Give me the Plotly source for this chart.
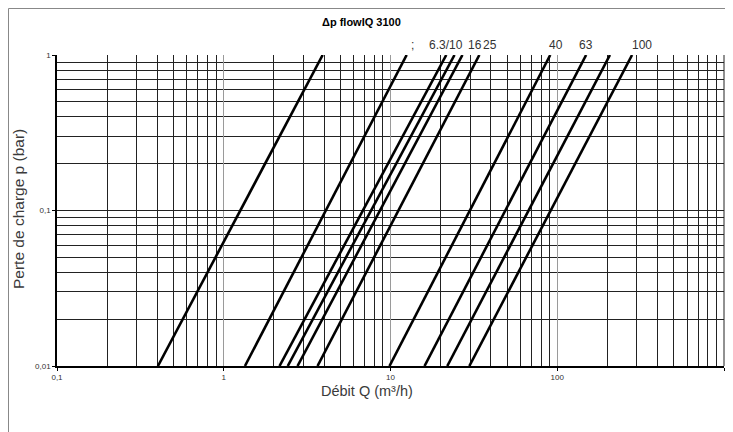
import math
import plotly.graph_objects as go

# Flow (m3/h) where each curve meets dp = 0.01 bar and dp = 1 bar
q_at_low = [0.403, 1.34, 2.16, 2.42, 2.77, 3.65, 9.86, 16.0, 21.9, 29.7]
q_at_high = [3.92, 12.5, 21.6, 24.2, 27.0, 34.1, 90.8, 149.0, 207.0, 281.0]
dp_low = 0.01
dp_high = 1.0

size_labels = [";", "6.3/10", "16", "25", "40", "63", "100"]
size_label_x = [13.5, 21.6, 32.1, 39.7, 98.6, 149.0, 321.0]

x_tickvals = [0.1, 1, 10, 100, 1000]
x_ticktext = ["0,1", "1", "10", "100", "1000"]
y_tickvals = [0.01, 0.1, 1]
y_ticktext = ["0,01", "0,1", "1"]

W, H = 725, 424
ML, MR, MT, MB = 49, 9, 47, 66
PW, PH = W - ML - MR, H - MT - MB
OFF = 8  # page body margin


def px_x(x):
    return (x - OFF - ML) / PW


def px_y(y):
    return (H - MB - (y - OFF)) / PH


fig = go.Figure()
for ql, qh in zip(q_at_low, q_at_high):
    fig.add_trace(go.Scatter(
        x=[ql, qh], y=[dp_low, dp_high], mode="lines",
        line=dict(color="black", width=2.6), showlegend=False, hoverinfo="skip"))

font_family = "Liberation Sans, Arial, sans-serif"

fig.update_layout(
    width=W, height=H,
    margin=dict(l=ML, r=MR, t=MT, b=MB, autoexpand=False),
    paper_bgcolor="white", plot_bgcolor="white",
    font=dict(family=font_family, color="#333333"),
    showlegend=False,
    xaxis=dict(
        type="log", range=[-1, 3], automargin=False,
        tickvals=x_tickvals, ticktext=x_ticktext,
        tickfont=dict(size=8, color="#333333"),
        ticks="outside", ticklen=3, tickcolor="black",
        showline=True, linecolor="black", linewidth=1.5, mirror=False,
        showgrid=True, gridcolor="#9a9a9a", gridwidth=1,
        minor=dict(dtick="D1", showgrid=True, gridcolor="#222222", gridwidth=1, ticks=""),
        zeroline=False,
    ),
    yaxis=dict(
        type="log", range=[-2, 0], automargin=False,
        tickvals=y_tickvals, ticktext=y_ticktext,
        tickfont=dict(size=8, color="#333333"),
        ticks="outside", ticklen=3, tickcolor="black",
        showline=True, linecolor="black", linewidth=1.5,
        showgrid=True, gridcolor="#222222", gridwidth=1,
        minor=dict(dtick="D1", showgrid=True, gridcolor="#222222", gridwidth=1, ticks=""),
        zeroline=False,
    ),
)

# chart title and axis titles
fig.add_annotation(x=px_x(361), y=px_y(22), xref="paper", yref="paper",
                   text="<b>Δp flowIQ 3100</b>", showarrow=False,
                   xanchor="center", yanchor="middle",
                   font=dict(size=11, color="black", family=font_family))
fig.add_annotation(x=px_x(367), y=px_y(391), xref="paper", yref="paper",
                   text="Débit Q (m³/h)", showarrow=False,
                   xanchor="center", yanchor="middle",
                   font=dict(size=14.5, color="#3a3a3a", family=font_family))
fig.add_annotation(x=px_x(18), y=px_y(209), xref="paper", yref="paper",
                   text="Perte de charge p (bar)", showarrow=False, textangle=-90,
                   xanchor="center", yanchor="middle",
                   font=dict(size=15.5, color="#3a3a3a", family=font_family))

for lab, lx in zip(size_labels, size_label_x):
    fig.add_annotation(x=math.log10(lx), y=px_y(45), xref="x", yref="paper",
                       yanchor="middle", text=lab, showarrow=False,
                       font=dict(size=12, color="#333333", family=font_family))

# right border of the plot area and outer frame (left and top edges)
fig.add_shape(type="line", xref="paper", yref="paper", x0=1, x1=1, y0=0, y1=1,
              line=dict(color="#222222", width=1))
fig.add_shape(type="line", xref="paper", yref="paper",
              x0=-(ML - 0.5) / PW, x1=-(ML - 0.5) / PW, y0=-MB / PH, y1=1 + (MT - 0.5) / PH,
              line=dict(color="#888888", width=1))
fig.add_shape(type="line", xref="paper", yref="paper",
              x0=-(ML - 0.5) / PW, x1=1 + MR / PW, y0=1 + (MT - 0.5) / PH, y1=1 + (MT - 0.5) / PH,
              line=dict(color="#888888", width=1))

fig.write_html("out.html", config={"displayModeBar": False})
